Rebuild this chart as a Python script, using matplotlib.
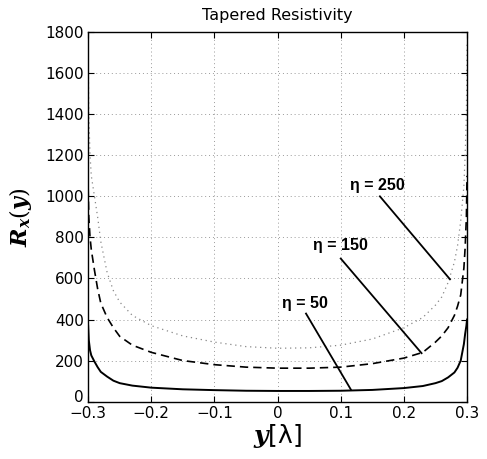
import numpy as np
import matplotlib
matplotlib.use("Agg")
import matplotlib.pyplot as plt
from matplotlib.transforms import ScaledTranslation

# ============================================================
# Data (y in wavelengths, R in ohms)
# ============================================================

y_pos = [-0.3, -0.299, -0.297, -0.295, -0.29, -0.285, -0.28, -0.27, -0.26,
         -0.25, -0.23, -0.2, -0.15, -0.1, -0.05, 0.0, 0.05, 0.1, 0.15, 0.2,
         0.23, 0.25, 0.26, 0.27, 0.28, 0.285, 0.29, 0.295, 0.297, 0.299, 0.3]

r_eta50 = [370, 300, 250, 225, 195, 168, 145, 122, 102,
           90, 78, 68, 60, 56, 53, 52, 52, 53, 57, 66,
           76, 90, 100, 118, 142, 165, 200, 280, 330, 370, 400]

r_eta150 = [1040, 900, 800, 740, 640, 550, 480, 410, 360,
            318, 275, 240, 200, 180, 168, 163, 163, 168, 185, 212,
            240, 290, 320, 360, 420, 465, 520, 650, 750, 900, 1100]

r_eta250 = [1750, 1400, 1200, 1100, 1000, 900, 780, 630, 540,
            485, 420, 370, 320, 290, 268, 260, 262, 275, 305, 360,
            410, 470, 510, 580, 680, 760, 880, 1050, 1200, 1400, 1750]

xticks = [-0.3, -0.2, -0.1, 0, 0.1, 0.2, 0.3]
xtick_labels = ["\u22120.3", "\u22120.2", "\u22120.1", "0", "0.1", "0.2", "0.3"]
yticks = [0, 200, 400, 600, 800, 1000, 1200, 1400, 1600, 1800]

# annotation: label, text position, line start, line end (data units)
ann_labels = ["\u03b7 = 250", "\u03b7 = 150", "\u03b7 = 50"]
ann_text = [(0.158, 1054), (0.099, 761), (0.044, 478)]
ann_start = [(0.162, 1000), (0.100, 697), (0.045, 429)]
ann_end = [(0.273, 596), (0.228, 236), (0.116, 59)]

# ============================================================
# Plot
# ============================================================

plt.rcParams["mathtext.fontset"] = "custom"
plt.rcParams["mathtext.it"] = "DejaVu Serif:italic:bold"
plt.rcParams["mathtext.rm"] = "DejaVu Serif"

fig = plt.figure(figsize=(4.87, 4.59), dpi=100)
ax = fig.add_axes([0.181, 0.125, 0.778, 0.805])

ax.plot(y_pos, r_eta50, color="black", lw=1.4, ls="-")
ax.plot(y_pos, r_eta150, color="black", lw=1.2, ls=(0, (5, 3)))
ax.plot(y_pos, r_eta250, color="#888888", lw=0.9, ls=(0, (1, 3)))

for lab, tp, ps, pe in zip(ann_labels, ann_text, ann_start, ann_end):
    ax.plot([ps[0], pe[0]], [ps[1], pe[1]], color="black", lw=1.3)
    ax.text(tp[0], tp[1], lab, ha="center", va="center", fontsize=11.5,
            fontweight="bold", family=["Liberation Sans", "DejaVu Sans"])

ax.set_xlim(-0.3, 0.3)
ax.set_ylim(0, 1800)
ax.set_xticks(xticks)
ax.set_xticklabels(xtick_labels)
ax.set_yticks(yticks)

ax.tick_params(direction="in", length=4, width=0.8, top=True, right=True,
               labelsize=11, pad=3)
ax.grid(True, ls=(0, (1, 3)), color="#999999", lw=0.7)

# lift the "0" label a little, as in the reference
zero_lab = ax.get_yticklabels()[0]
zero_lab.set_transform(zero_lab.get_transform()
                       + ScaledTranslation(0, 4 / 72, fig.dpi_scale_trans))

for s in ax.spines.values():
    s.set_linewidth(1.0)

ax.set_title("Tapered Resistivity", fontsize=11.5, pad=9)
ax.set_ylabel(r"$R_x(y)$", fontsize=16, labelpad=8)
ax.set_xlabel("$y$[\u03bb]", fontsize=18, labelpad=1)

fig.savefig("out.png", dpi=100)
